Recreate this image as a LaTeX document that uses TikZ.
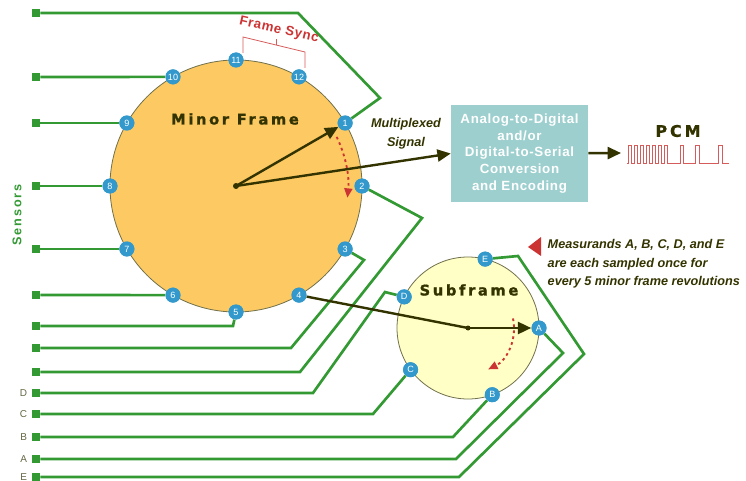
\documentclass[tikz,border=0pt]{standalone}
\usepackage{fontspec}
\setmainfont{Liberation Sans}
\newfontfamily\heavyfont{DejaVu Sans}[FakeBold=1.2,LetterSpace=18]
\usetikzlibrary{arrows.meta,calc,positioning}

\definecolor{wiregreen}{HTML}{339933}
\definecolor{pinblue}{HTML}{3399CC}
\definecolor{minorfill}{HTML}{FCC963}
\definecolor{subfill}{HTML}{FFFFC6}
\definecolor{ink}{HTML}{333300}
\definecolor{boxteal}{HTML}{9DCFCF}
\definecolor{syncred}{HTML}{CC3333}
\definecolor{lblgray}{HTML}{666644}

\tikzset{
  pin/.style={circle,fill=pinblue,inner sep=0pt,minimum size=11.25pt,
    text=white,font=\fontsize{6.8}{7}\selectfont},
  sensor/.style={rectangle,fill=wiregreen,inner sep=0pt,minimum size=6pt},
  sensorlbl/.style={text=lblgray,font=\fontsize{7.5}{9}\selectfont},
  wireline/.style={draw=wiregreen,line width=2pt},
  hand/.style={draw=ink,line width=1.8pt,-{Triangle[length=10pt,width=9pt]}},
  sweep/.style={draw=syncred,line width=1.4pt,dash pattern=on 2pt off 2.5pt,
    -{Triangle[length=7pt,width=6pt]}},
  title/.style={text=ink,font=\heavyfont\bfseries\fontsize{11}{13}\selectfont}
}

\begin{document}
\begin{tikzpicture}[x=0.75pt,y=-0.75pt]
\useasboundingbox (0,0) rectangle (746,481);

% the two frames
\node[circle,fill=minorfill,draw=ink!70,line width=0.6pt,minimum size=189pt] (minor) at (236,186) {};
\node[circle,fill=subfill,draw=ink!70,line width=0.6pt,minimum size=106.5pt] (sub) at (468,328) {};
\coordinate (mc) at (236,186);
\coordinate (sc) at (468,328);

% pins
\foreach \i in {1,...,12}
  \node[pin] (p\i) at ({236+126*cos(60-30*\i)},{186-126*sin(60-30*\i)}) {};
\foreach \l/\a in {A/0,E/76,D/154,C/216,B/290}
  \node[pin] (\l) at ({468+71*cos(\a)},{328-71*sin(\a)}) {};

% sensors
\foreach \n/\y in {sT/13,s10/77,s9/123,s8/186,s7/249,s6/295,s5/326,s3/348,s2/372,
                   sD/393,sC/414,sB/437,sA/459,sE/477}
  \node[sensor] (\n) at (36,\y) {};
\foreach \l in {D,C,B,A,E}
  \node[sensorlbl] (l\l) [left=0pt of s\l] {\l};
\node[rotate=90,text=wiregreen,font=\bfseries\addfontfeatures{LetterSpace=15}\fontsize{9.5}{11}\selectfont] (sensors) at (17,215) {Sensors};

% wiring
\draw[wireline] (sT) -- (298,13) -- (380,98) -- (p1);
\draw[wireline] (s10) -- (p10);
\draw[wireline] (s9) -- (p9);
\draw[wireline] (s8) -- (p8);
\draw[wireline] (s7) -- (p7);
\draw[wireline] (s6) -- (p6);
\draw[wireline] (s5) -- (233,326) -- (p5);
\draw[wireline] (s3) -- (291,348) -- (364,260) -- (p3);
\draw[wireline] (s2) -- (300,372) -- (422,218) -- (p2);
\draw[wireline] (sD) -- (313,393) -- (385,292) -- (D);
\draw[wireline] (sC) -- (373,414) -- (C);
\draw[wireline] (sB) -- (453,437) -- (B);
\draw[wireline] (sA) -- (456,459) -- (563,353) -- (A);
\draw[wireline] (sE) -- (459,477) -- (584,354) -- (518,256) -- (E);

% commutator arms
\draw[ink,line width=1.8pt] (p4) -- (sc);
\draw[hand] (mc) -- (p1);
\draw[hand] (sc) -- (A);
\fill[ink] (mc) circle[radius=3];
\fill[ink] (sc) circle[radius=2.5];
\draw[sweep] ($(mc)+(-26:112)$) arc[start angle=-26,end angle=6,radius=112];
\draw[sweep] ($(sc)+(-12:46)$) arc[start angle=-12,end angle=64,radius=46];

% pin numbers on top
\foreach \i in {1,...,12}
  \node[pin] at (p\i) {\i};
\foreach \l in {A,B,C,D,E}
  \node[pin] at (\l) {\l};

% encoder
\node[fill=boxteal,minimum width=102.75pt,minimum height=72.75pt,align=center,text=white,
  font=\bfseries\addfontfeatures{LetterSpace=5}\fontsize{10}{12.5}\selectfont] (adc) at (519.5,153.5)
  {Analog-to-Digital\\and/or\\Digital-to-Serial\\Conversion\\and Encoding};
\draw[hand] (mc) -- (adc.west);
\coordinate (pcmin) at (621,153);
\draw[hand] (adc) -- (pcmin);
\node[title,font=\heavyfont\bfseries\fontsize{12}{14}\selectfont] (pcm) at (678,131) {PCM};
\draw[syncred!80,line width=0.7pt] (627,163)
  \foreach \x/\w in {628/3,634/3,640/3,646/3,652/3,658/3,664/3,680/3,695/4,718/4}
    { -- (\x,163) -- (\x,145) -- (\x+\w,145) -- (\x+\w,163) } -- (729,163);

% labels
\node[title] (minorlbl) at (235,119) {Minor Frame};
\node[title] (sublbl) at (469,290) {Subframe};
\node[text=ink,align=center,font=\bfseries\itshape\fontsize{9.5}{14}\selectfont] (mux) at (406,134)
  {Multiplexed\\Signal};
\node[rotate=-13,text=syncred,font=\bfseries\addfontfeatures{LetterSpace=5}\fontsize{10}{12}\selectfont] (sync) at (279,30) {Frame Sync};
\draw[syncred!80,line width=0.6pt] (243,53) -- (243,37) -- (305,52) -- (305,68);
\draw[syncred!80,line width=0.6pt] (276,45) -- (276,39);
\fill[syncred] (528,247) -- (541,237) -- (541,256) -- cycle;
\node[anchor=west,align=left,text=ink,font=\bfseries\itshape\fontsize{9.5}{13.9}\selectfont] (note) at (543,264)
  {Measurands A, B, C, D, and E\\are each sampled once for\\every 5 minor frame revolutions};
\end{tikzpicture}
\end{document}
